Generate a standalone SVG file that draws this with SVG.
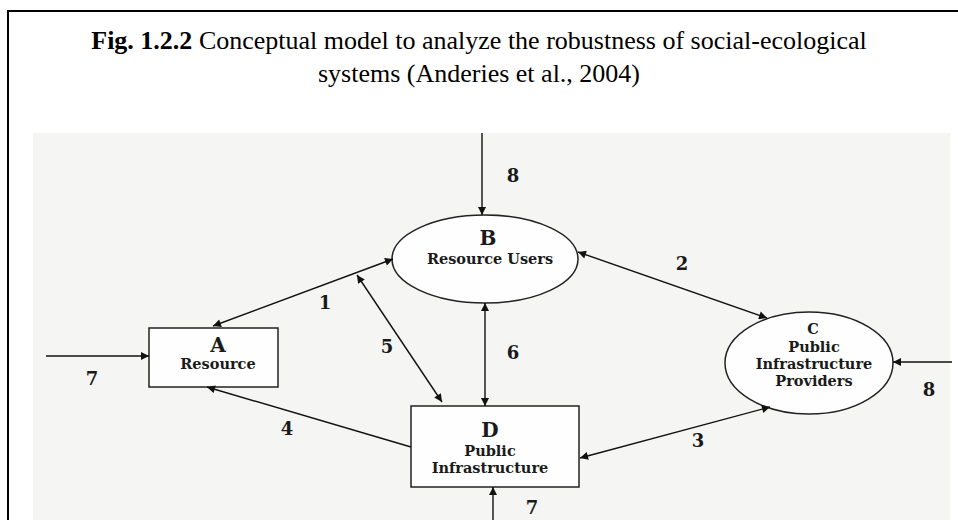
<svg xmlns="http://www.w3.org/2000/svg" width="958" height="520" viewBox="0 0 958 520">
<defs>
<marker id="ah" viewBox="0 0 10 10" refX="10" refY="5" markerWidth="10" markerHeight="8" markerUnits="userSpaceOnUse" orient="auto-start-reverse">
<path d="M0,0 L10,5 L0,10 z" fill="#111"/>
</marker>
</defs>
<style>
.title{font-family:"Liberation Serif","Times New Roman",serif;font-size:26px;fill:#000}
.shape{fill:#fefefe;stroke:#222;stroke-width:1.5}
.lbl{font-family:"DejaVu Serif","Liberation Serif",serif;font-weight:bold;fill:#1a1a1a;text-anchor:middle}
.big{font-size:20px}
.sm{font-size:14.5px}
.num{font-family:"DejaVu Serif","Liberation Serif",serif;font-weight:bold;font-size:18px;fill:#1a1a1a;text-anchor:middle}
.c{fill:none;stroke:#111;stroke-width:1.4}
</style>
<rect x="0" y="0" width="958" height="520" fill="#fff"/>
<path d="M8,520 V11 H958" fill="none" stroke="#000" stroke-width="2"/>
<text class="title" x="479" y="49" text-anchor="middle"><tspan font-weight="bold">Fig. 1.2.2</tspan> Conceptual model to analyze the robustness of social-ecological</text>
<text class="title" x="479" y="82" text-anchor="middle">systems (Anderies et al., 2004)</text>
<rect x="33" y="133" width="917" height="387" fill="#f5f5f3"/>
<g id="nodeA">
<rect class="shape" x="149" y="328" width="129" height="59"/>
<text class="lbl big" x="218" y="352">A</text>
<text class="lbl sm" x="218" y="369">Resource</text>
</g>
<g id="nodeB">
<ellipse class="shape" cx="485" cy="259" rx="93" ry="44"/>
<text class="lbl big" x="488" y="245">B</text>
<text class="lbl sm" x="490" y="264">Resource Users</text>
</g>
<g id="nodeC">
<ellipse class="shape" cx="809" cy="363" rx="84" ry="51"/>
<text class="lbl sm" x="813" y="334">C</text>
<text class="lbl sm" x="814" y="352">Public</text>
<text class="lbl sm" x="814" y="369">Infrastructure</text>
<text class="lbl sm" x="814" y="386">Providers</text>
</g>
<g id="nodeD">
<rect class="shape" x="411" y="406" width="168" height="81"/>
<text class="lbl big" x="490" y="437">D</text>
<text class="lbl sm" x="490" y="456">Public</text>
<text class="lbl sm" x="490" y="473">Infrastructure</text>
</g>
<g id="connectors">
<line class="c" x1="46" y1="356" x2="149" y2="356" marker-end="url(#ah)"/>
<line class="c" x1="482" y1="133" x2="482" y2="215" marker-end="url(#ah)"/>
<line class="c" x1="952" y1="362" x2="893" y2="362" marker-end="url(#ah)"/>
<line class="c" x1="493" y1="520" x2="493" y2="487" marker-end="url(#ah)"/>
<line class="c" x1="213" y1="326" x2="393" y2="259" marker-start="url(#ah)" marker-end="url(#ah)"/>
<line class="c" x1="357" y1="275" x2="442" y2="402" marker-start="url(#ah)" marker-end="url(#ah)"/>
<line class="c" x1="485" y1="303" x2="485" y2="406" marker-start="url(#ah)" marker-end="url(#ah)"/>
<line class="c" x1="578" y1="252" x2="767" y2="318" marker-start="url(#ah)" marker-end="url(#ah)"/>
<line class="c" x1="770" y1="407" x2="580" y2="458" marker-start="url(#ah)" marker-end="url(#ah)"/>
<line class="c" x1="411" y1="447" x2="207" y2="387" marker-end="url(#ah)"/>
</g>
<g id="labels">
<text class="num" x="325" y="309">1</text>
<text class="num" x="682" y="270">2</text>
<text class="num" x="698" y="447">3</text>
<text class="num" x="287" y="435">4</text>
<text class="num" x="387" y="353">5</text>
<text class="num" x="513" y="359">6</text>
<text class="num" x="92" y="385">7</text>
<text class="num" x="532" y="514">7</text>
<text class="num" x="513" y="182">8</text>
<text class="num" x="929" y="396">8</text>
</g>
</svg>
